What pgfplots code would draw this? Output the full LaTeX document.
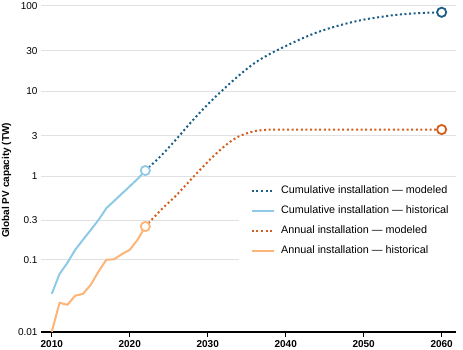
\documentclass[border=0pt]{standalone}
\usepackage{fontspec}
\setmainfont{Liberation Sans}
\usepackage{pgfplots}
\pgfplotsset{compat=1.18}
\definecolor{cumMod}{RGB}{27,94,134}
\definecolor{cumHist}{RGB}{142,202,230}
\definecolor{annMod}{RGB}{211,94,30}
\definecolor{annHist}{RGB}{253,180,120}
\definecolor{gridgray}{RGB}{225,225,225}
\begin{document}
\begin{tikzpicture}
\useasboundingbox (-41pt,-18pt) rectangle (422pt,332pt);
\begin{axis}[
  scale only axis, width=415pt, height=326pt,
  xmin=2008.62, xmax=2061.84,
  ymin=0.01, ymax=100,
  y coord trafo/.code={\pgfmathparse{ln(#1+0.005)/ln(10)}},
  y coord inv trafo/.code={\pgfmathparse{10^(#1)-0.005}},
  axis lines*=left,
  y axis line style={draw=none},
  x axis line style={black, line width=1.6pt, -},
  xtick={2010,2020,2030,2040,2050,2060},
  xtick align=outside,
  xtick style={black, line width=0.8pt},
  major tick length=5pt,
  ytick={0.01,0.1,0.3,1,3,10,30,100},
  yticklabels={0.01,0.1,0.3,1,3,10,30,100},
  ytick style={draw=none},
  ymajorgrids,
  major grid style={gridgray, line width=1pt},
  /pgf/number format/assume math mode=true,
  /pgf/number format/1000 sep={},
  xticklabel style={font=\bfseries\fontsize{10}{12}\selectfont},
  yticklabel style={font=\fontsize{10}{12}\selectfont},
  ylabel={Global PV capacity (TW)},
  ylabel style={font=\bfseries\fontsize{10}{12}\selectfont, at={(ticklabel cs:0.465)}},
  clip=false,
  legend cell align=left,
  legend image code/.code={\draw[#1] (0pt,0pt) -- (22pt,0pt); \path (25.3pt,0pt);},
  legend style={at={(rel axis cs:0.477,0.4617)}, anchor=north west, draw=none, fill=white,
    font=\fontsize{10.8}{13}\selectfont, inner xsep=11.7pt, inner ysep=4pt, row sep=9.7pt,
    nodes={inner xsep=3pt, inner ysep=0pt, text height=8pt, text depth=2.3pt}},
]
\addplot[cumMod, line width=2pt, dash pattern=on 2pt off 2.6pt, smooth] table {
x y
2022 1.17
2024 1.74
2026 2.75
2028 4.47
2030 7.0
2032 10.5
2034 15.3
2036 21.4
2038 27.5
2040 33.9
2042 41.2
2044 49
2046 56.2
2048 63
2050 69.2
2052 74
2054 78.5
2056 81.3
2058 83.2
2060 84.4
};
\addlegendentry{Cumulative installation — modeled}
\addplot[cumHist, line width=2pt] table {
x y
2010 0.037
2011 0.067
2012 0.092
2013 0.133
2014 0.176
2015 0.231
2016 0.305
2017 0.42
2018 0.512
2019 0.625
2020 0.762
2021 0.93
2022 1.17
};
\addlegendentry{Cumulative installation — historical}
\addplot[annMod, line width=2pt, dash pattern=on 2pt off 2.6pt, smooth] table {
x y
2022 0.254
2024 0.40
2026 0.60
2028 0.95
2030 1.48
2031 1.82
2032 2.2
2033 2.6
2034 2.95
2035 3.2
2036 3.4
2037 3.5
2038 3.54
2040 3.55
2045 3.55
2050 3.55
2055 3.55
2060 3.55
};
\addlegendentry{Annual installation — modeled}
\addplot[annHist, line width=2pt] table {
x y
2010 0.0101
2011 0.028
2012 0.0263
2013 0.035
2014 0.037
2015 0.0487
2016 0.072
2017 0.1005
2018 0.102
2019 0.118
2020 0.133
2021 0.176
2022 0.254
};
\addlegendentry{Annual installation — historical}
\addplot[only marks, mark=*, mark size=4.6pt, mark options={draw=cumHist, fill=white, line width=1.8pt}, forget plot] coordinates {(2022,1.17)};
\addplot[only marks, mark=*, mark size=4.6pt, mark options={draw=annHist, fill=white, line width=1.8pt}, forget plot] coordinates {(2022,0.254)};
\addplot[only marks, mark=*, mark size=4.6pt, mark options={draw=cumMod, fill=white, line width=1.8pt}, forget plot] coordinates {(2060,84.4)};
\addplot[only marks, mark=*, mark size=4.6pt, mark options={draw=annMod, fill=white, line width=1.8pt}, forget plot] coordinates {(2060,3.55)};
\end{axis}
\end{tikzpicture}
\end{document}
